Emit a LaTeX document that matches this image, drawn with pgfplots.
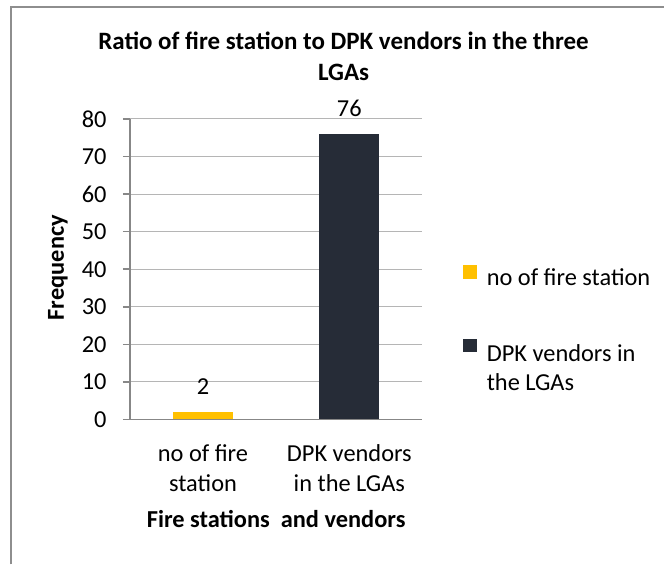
\documentclass[border=0pt]{standalone}
\usepackage{fontspec}
\setmainfont{Carlito}
\usepackage{pgfplots}
\pgfplotsset{compat=1.18}
\definecolor{barYellow}{HTML}{FFC000}
\definecolor{barNavy}{HTML}{262C37}
\definecolor{axisGray}{HTML}{878787}
\definecolor{gridGray}{HTML}{B5B5B5}
\definecolor{frameGray}{HTML}{8E8E8E}

\begin{document}
\begin{tikzpicture}[font=\fontsize{12.2}{15}\selectfont]
\begin{axis}[
    scale only axis,
    width=146.5pt,
    height=150.5pt,
    ybar,
    bar width=30pt,
    xmin=-0.5, xmax=1.5,
    ymin=0, ymax=80,
    ytick={0,10,...,80},
    xtick={0,1},
    xticklabels={{no of fire\\station},{DPK vendors\\in the LGAs}},
    extra x ticks={-0.5,0.5,1.5},
    extra x tick labels={},
    extra x tick style={major tick length=4pt, tick style={axisGray, line width=0.8pt}, grid=none},
    x tick style={draw=none},
    y tick style={axisGray, line width=0.8pt},
    tick align=outside,
    major tick length=3.5pt,
    axis x line*=bottom,
    axis y line*=left,
    axis line style={axisGray, line width=0.8pt, -},
    ymajorgrids,
    grid style={gridGray, line width=0.5pt},
    /pgf/number format/assume math mode=true,
    yticklabel style={anchor=east, inner sep=0pt, xshift=-8pt},
    xticklabel style={align=center, anchor=north, inner sep=0pt, yshift=-9pt},
    xlabel={\bfseries Fire stations\ \ and vendors},
    xlabel style={at={(axis description cs:0.5,0)}, anchor=base, yshift=-54pt, inner sep=0pt},
    ylabel={\bfseries Frequency},
    ylabel style={at={([xshift=-36pt]axis description cs:0,0.505)}, anchor=center, inner sep=0pt},
    title={\bfseries Ratio of fire station to DPK vendors in the three\\\bfseries LGAs},
    title style={at={(axis description cs:0,0)}, anchor=north, align=center, inner sep=0pt,
        xshift=107pt, yshift=188pt, font=\fontsize{12.5}{15.5}\selectfont},
    nodes near coords,
    nodes near coords style={anchor=base, yshift=8.5pt, inner sep=0pt},
    legend style={at={(axis description cs:1.1365,0.515)}, anchor=north west,
        draw=none, fill=none, inner sep=0pt, row sep=24.8pt, column sep=5pt,
        cells={anchor=base west},
        nodes={inner sep=0pt, font=\fontsize{12.2}{14.5}\selectfont}},
    legend image code/.code={\fill[#1] (0pt,0pt) rectangle (7pt,7pt);},
    legend cell align=left,
]
\addplot[fill=barYellow, draw=none, bar shift=0pt] coordinates {(0,2)};
\addlegendentry{no of fire station}
\addplot[fill=barNavy, draw=none, bar shift=0pt] coordinates {(1,76)};
\addlegendentry{\begin{tabular}[t]{@{}l@{}}DPK vendors in\\the LGAs\end{tabular}}
\end{axis}
\draw[frameGray, line width=0.8pt] (-59.5pt,-72.5pt) -- (-59.5pt,206.5pt) -- (267.5pt,206.5pt);
\path[use as bounding box] (-65pt,-72.5pt) rectangle (267.5pt,210pt);
\end{tikzpicture}
\end{document}
